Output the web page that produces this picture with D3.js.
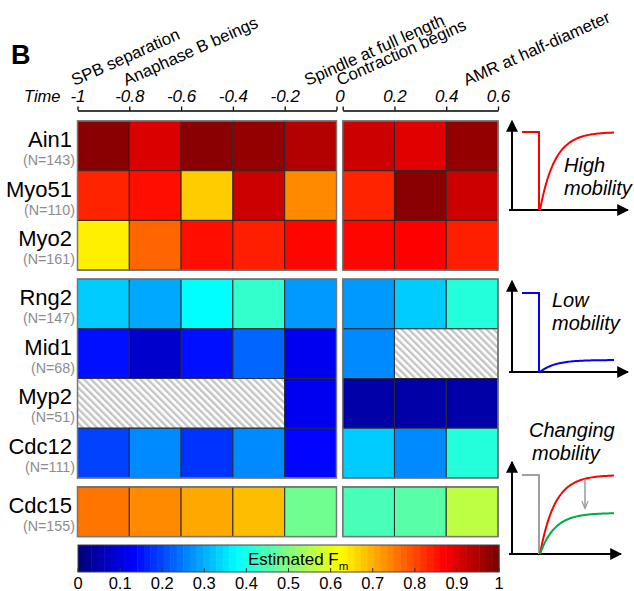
<!DOCTYPE html>
<html>
<head>
<meta charset="utf-8">
<script src="https://cdn.jsdelivr.net/npm/d3@7"></script>
<style>
  body { margin: 0; background: #fff; }
  svg { font-family: Arial, "Liberation Sans", sans-serif; }
</style>
</head>
<body>
<div id="chart"></div>
<script>
var width = 634, height = 591;

// proteins (rows), grouped by mobility class
let proteins = ["Ain1", "Myo51", "Myo2", "Rng2", "Mid1", "Myp2", "Cdc12", "Cdc15"];
let counts = [143, 110, 161, 147, 68, 51, 111, 155];
let groups = [0, 0, 0, 1, 1, 1, 1, 2];

// time bins (bin start) before and after contraction begins
let timesBefore = [-1, -0.8, -0.6, -0.4, -0.2];
let timesAfter = [0, 0.2, 0.4];

// estimated mobile fraction, null = no data
let fmBefore = [
  [0.99, 0.91, 0.99, 0.98, 0.95],
  [0.84, 0.86, 0.675, 0.925, 0.74],
  [0.64, 0.775, 0.86, 0.845, 0.87],
  [0.325, 0.29, 0.375, 0.425, 0.275],
  [0.14, 0.075, 0.14, 0.225, 0.11],
  [null, null, null, null, 0.11],
  [0.19, 0.26, 0.175, 0.26, 0.13],
  [0.76, 0.74, 0.71, 0.69, 0.485]
];
let fmAfter = [
  [0.925, 0.905, 0.98],
  [0.84, 0.99, 0.925],
  [0.87, 0.875, 0.845],
  [0.275, 0.325, 0.41],
  [0.26, null, null],
  [0.04, 0.04, 0.04],
  [0.325, 0.26, 0.41],
  [0.445, 0.46, 0.56]
];

let eventLabels = ["SPB separation", "Anaphase B beings", "Spindle at full length", "Contraction begins", "AMR at half-diameter"];
let eventTimes = [-1, -0.8, -0.1, 0, 0.49];
let eventSide = ["L", "L", "L", "R", "R"];

let colorTicks = [0, 0.1, 0.2, 0.3, 0.4, 0.5, 0.6, 0.7, 0.8, 0.9, 1];

function clamp(v) { return Math.max(0, Math.min(1, v)); }
function jet(v) {
  var r = clamp(1.5 - Math.abs(4 * v - 3)),
      g = clamp(1.5 - Math.abs(4 * v - 2)),
      b = clamp(1.5 - Math.abs(4 * v - 1));
  return d3.rgb(r * 255, g * 255, b * 255).toString();
}
let color = d3.scaleSequential(jet).domain([0, 1]);

var svg = d3.select("#chart").append("svg")
    .attr("width", width)
    .attr("height", height);

var defs = svg.append("defs");
var pat = defs.append("pattern")
    .attr("id", "hatch")
    .attr("patternUnits", "userSpaceOnUse")
    .attr("width", 5).attr("height", 5)
    .attr("patternTransform", "rotate(-45)");
pat.append("rect").attr("width", 5).attr("height", 5).attr("fill", "#fff");
pat.append("rect").attr("width", 2.4).attr("height", 5).attr("fill", "#c4c4c4");

// scales
let xL = d3.scaleLinear().domain([-1, 0]).range([77.5, 336.5]);
let xR = d3.scaleLinear().domain([0, 0.6]).range([342.7, 498]);
let rowH = 49.7, gap = 9, top0 = 121;
let yRow = function(i) {
  var g = groups[i];
  var idxInGroup = i - groups.indexOf(g);
  var start = top0;
  for (var k = 0; k < g; k++) {
    var n = groups.filter(function(d) { return d === k; }).length;
    start += n * rowH + gap;
  }
  return start + idxInGroup * rowH;
};

// panel label
svg.append("text").attr("x", 11).attr("y", 64)
  .attr("font-size", 27).attr("font-weight", "bold").text("B");

// time axes
var axisL = d3.axisTop(xL).tickValues([-1, -0.8, -0.6, -0.4, -0.2, 0])
  .tickSize(4).tickSizeOuter(0).tickPadding(5)
  .tickFormat(function(d) { return d === 0 ? "" : String(+d.toFixed(1)); });
var axisR = d3.axisTop(xR).tickValues([0, 0.2, 0.4, 0.6])
  .tickSize(4).tickSizeOuter(0).tickPadding(5)
  .tickFormat(function(d) { return d === 0 ? "" : String(+d.toFixed(1)); });

[[axisL, xL], [axisR, xR]].forEach(function(a) {
  var g = svg.append("g").attr("transform", "translate(0,110.5)").call(a[0]);
  g.selectAll("text").attr("font-size", 17).attr("font-style", "italic")
    .attr("font-family", "Arial, 'Liberation Sans', sans-serif").attr("fill", "#000");
  g.selectAll("line, path").attr("stroke", "#000").attr("stroke-width", 1.3);
});
svg.append("text").attr("x", (xL(0) + xR(0)) / 2 + 0.5).attr("y", 101.5)
  .attr("text-anchor", "middle").attr("font-size", 17).attr("font-style", "italic").text("0");
svg.append("text").attr("x", 24).attr("y", 101.5)
  .attr("font-size", 16.5).attr("font-style", "italic").text("Time");

// event annotations
svg.selectAll(".event").data(eventLabels).enter().append("text")
  .attr("class", "event")
  .attr("font-size", 16.8)
  .attr("transform", function(d, i) {
    var x = eventSide[i] === "L" ? xL(eventTimes[i]) : xR(eventTimes[i]);
    return "translate(" + (x - 3) + ",86) rotate(-24)";
  })
  .text(function(d) { return d; });

// heatmap cells
function drawCells(values, times, x, step) {
  proteins.forEach(function(p, i) {
    var y = yRow(i);
    // hatched (no data) runs drawn as merged blocks
    var j = 0;
    while (j < times.length) {
      if (values[i][j] === null) {
        var k = j;
        while (k < times.length && values[i][k] === null) k++;
        svg.append("rect")
          .attr("x", x(times[j])).attr("y", y)
          .attr("width", x(times[k - 1] + step) - x(times[j])).attr("height", rowH)
          .attr("fill", "url(#hatch)")
          .attr("stroke", "#333").attr("stroke-width", 1);
        j = k;
      } else {
        svg.append("rect")
          .attr("x", x(times[j])).attr("y", y)
          .attr("width", x(times[j] + step) - x(times[j])).attr("height", rowH)
          .attr("fill", color(values[i][j]))
          .attr("stroke", "#2a2a2a").attr("stroke-width", 1);
        j++;
      }
    }
  });
  // group frames
  d3.range(3).forEach(function(g) {
    var idx = groups.map(function(d, i) { return d === g ? i : -1; }).filter(function(i) { return i >= 0; });
    svg.append("rect")
      .attr("x", x(times[0])).attr("y", yRow(idx[0]))
      .attr("width", x(times[times.length - 1] + step) - x(times[0]))
      .attr("height", idx.length * rowH)
      .attr("fill", "none").attr("stroke", "#777").attr("stroke-width", 1.5);
  });
}
drawCells(fmBefore, timesBefore, xL, 0.2);
drawCells(fmAfter, timesAfter, xR, 0.2);

// row labels
proteins.forEach(function(p, i) {
  var cy = yRow(i) + rowH / 2;
  svg.append("text").attr("x", 72).attr("y", cy + 1)
    .attr("text-anchor", "end").attr("font-size", 22).text(p);
  svg.append("text").attr("x", 75).attr("y", cy + 19)
    .attr("text-anchor", "end").attr("font-size", 14.3).attr("fill", "#8c8c8c")
    .text("(N=" + counts[i] + ")");
});

// colorbar
let xC = d3.scaleLinear().domain([0, 1]).range([78, 499]);
let levels = d3.range(64);
svg.selectAll(".cb").data(levels).enter().append("rect")
  .attr("class", "cb")
  .attr("x", function(d) { return xC(d / 64); })
  .attr("y", 545)
  .attr("width", function(d) { return xC((d + 1) / 64) - xC(d / 64) + 0.5; })
  .attr("height", 27)
  .attr("fill", function(d) { return color(d / 63); });
svg.append("rect").attr("x", 78).attr("y", 545).attr("width", 421).attr("height", 27)
  .attr("fill", "none").attr("stroke", "#444").attr("stroke-width", 1);
svg.selectAll(".cbt").data(colorTicks).enter().append("line")
  .attr("x1", function(d) { return xC(d); }).attr("x2", function(d) { return xC(d); })
  .attr("y1", 572).attr("y2", 568)
  .attr("stroke", "#333").attr("stroke-width", 1);
svg.selectAll(".cbl").data(colorTicks).enter().append("text")
  .attr("x", function(d) { return xC(d); }).attr("y", 589)
  .attr("text-anchor", "middle").attr("font-size", 16.5)
  .text(function(d) { return String(d); });
var cbt = svg.append("text").attr("x", 248).attr("y", 565).attr("font-size", 17);
cbt.append("tspan").text("Estimated F");
cbt.append("tspan").attr("font-size", 11.5).attr("dy", 5).text("m");

// schematic FRAP insets
let insets = [
  {y0: 210, top: 132, plateau: 132, col: "#ff0000", text: ["High", "mobility"], tx: 564, ty: 172},
  {y0: 372, top: 293, plateau: 360, col: "#0000ff", text: ["Low", "mobility"], tx: 552, ty: 307},
  {y0: 554, top: 475, plateau: 475, col: "#ff0000", text: ["Changing", "mobility"], tx: 529, ty: 437}
];
var ax = 512, xs = 522, xd = 540, xe = 614;

defs.append("marker").attr("id", "arrBig")
  .attr("viewBox", "0 0 10 10").attr("refX", 9).attr("refY", 5)
  .attr("markerWidth", 12).attr("markerHeight", 12).attr("markerUnits", "userSpaceOnUse")
  .attr("orient", "auto")
  .append("path").attr("d", "M0,0L10,5L0,10Z").attr("fill", "#000");
defs.append("marker").attr("id", "arrGray")
  .attr("viewBox", "0 0 10 10").attr("refX", 9).attr("refY", 5)
  .attr("markerWidth", 8).attr("markerHeight", 8).attr("markerUnits", "userSpaceOnUse")
  .attr("orient", "auto")
  .append("path").attr("d", "M0,1L10,5L0,9").attr("fill", "none").attr("stroke", "#999").attr("stroke-width", 1.5);

var line = d3.line();
function recovery(y0, plateau) {
  return d3.range(0, 1.0001, 0.02).map(function(t) {
    return [xd + t * (xe - xd), y0 - (y0 - plateau) * (1 - Math.exp(-t * 5))];
  });
}

insets.forEach(function(s, i) {
  var axTop = i === 0 ? 121 : (i === 1 ? 281 : 462);
  var axRight = i === 2 ? 621 : 628;
  svg.append("line").attr("x1", ax).attr("y1", s.y0).attr("x2", ax).attr("y2", axTop)
    .attr("stroke", "#000").attr("stroke-width", 2).attr("marker-end", "url(#arrBig)");
  svg.append("line").attr("x1", ax - 3).attr("y1", s.y0).attr("x2", axRight).attr("y2", s.y0)
    .attr("stroke", "#000").attr("stroke-width", 2).attr("marker-end", "url(#arrBig)");
  var preCol = i === 2 ? "#a0a0a0" : s.col;
  svg.append("path")
    .attr("d", line([[xs, s.top], [xd - 1, s.top], [xd - 1, s.y0]]))
    .attr("fill", "none").attr("stroke", preCol).attr("stroke-width", 2);
  svg.append("path").attr("d", line(recovery(s.y0, s.plateau)))
    .attr("fill", "none").attr("stroke", s.col).attr("stroke-width", 2);
  if (i === 2) {
    svg.append("path").attr("d", line(recovery(s.y0, 513)))
      .attr("fill", "none").attr("stroke", "#00aa44").attr("stroke-width", 2);
    svg.append("line").attr("x1", 585).attr("y1", 479).attr("x2", 585).attr("y2", 508)
      .attr("stroke", "#999").attr("stroke-width", 1.5).attr("marker-end", "url(#arrGray)");
  }
  s.text.forEach(function(t, k) {
    svg.append("text").attr("x", s.tx + (i === 2 && k === 1 ? 3 : 0))
      .attr("y", s.ty + k * 23)
      .attr("font-size", 20).attr("font-style", "italic").text(t);
  });
});
</script>
</body>
</html>
